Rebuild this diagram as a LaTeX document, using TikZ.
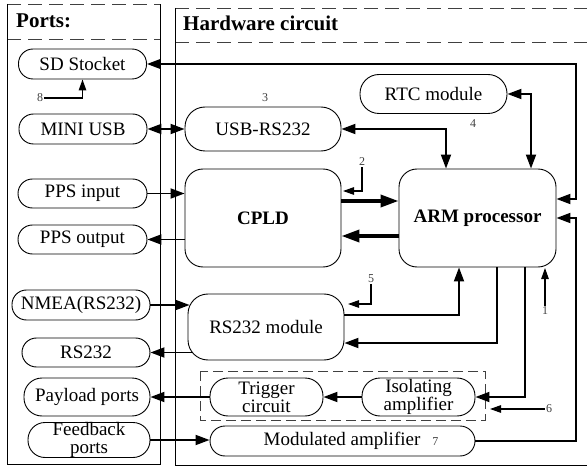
\documentclass[tikz,border=0pt]{standalone}
\usepackage{fontspec}
\setmainfont{Liberation Serif}
\usetikzlibrary{arrows.meta}
\tikzset{
  smalltip/.tip={Triangle[length=11pt,width=7.5pt]},
  bigtip/.tip={Triangle[length=18pt,width=12pt]},
}
\begin{document}
\begin{tikzpicture}[x=1pt,y=-1pt,
  >={Triangle[length=14pt,width=10pt]},
  box/.style={draw, line width=0.9pt, align=center, inner sep=0pt,
    font=\fontsize{19}{16}\selectfont},
  pill/.style={box, rounded corners=#1},
  pill/.default=14.5pt,
  conn/.style={line width=1.8pt},
  heavy/.style={line width=3.6pt, -bigtip},
  numlab/.style={inner sep=0pt, text=black!75, font=\fontsize{12}{12}\selectfont},
  labarrow/.style={line width=1.2pt, -smalltip},
  frame/.style={line width=0.9pt},
  frametop/.style={line width=0.9pt, draw=black!75, dash pattern=on 14pt off 7pt},
  title/.style={anchor=base west, inner sep=0pt, font=\bfseries\fontsize{21}{22}\selectfont},
]
\useasboundingbox (0,0) rectangle (587,468);

% ---- frames ----
\draw[frametop] (7,4) -- (160,4);
\draw[frametop] (7,39) -- (160,39);
\draw[frame] (7,4) -- (7,464) -- (160,464) -- (160,4);
\draw[frametop] (175,8) -- (587,8);
\draw[frametop] (175,42) -- (587,42);
\draw[frame] (175,8) -- (175,465) -- (587,465);
\node[title] (tports) at (16,28) {Ports:};
\node[title] (thw) at (183,31) {Hardware circuit};

% ---- port nodes ----
\node[pill, minimum width=128pt, minimum height=30pt] (sd) at (82.5,64) {SD Stocket};
\node[pill, minimum width=128pt, minimum height=30pt] (musb) at (83,129) {MINI USB};
\node[pill, minimum width=129pt, minimum height=29pt] (ppsin) at (82.5,193.5) {PPS input};
\node[pill, minimum width=129pt, minimum height=29pt] (ppsout) at (82.5,239.5) {PPS output};
\node[pill, minimum width=138pt, minimum height=30pt] (nmea) at (81,305) {NMEA(RS232)};
\node[pill, minimum width=128pt, minimum height=29pt] (rs) at (86,352.5) {RS232};
\node[pill=18pt, minimum width=126pt, minimum height=38pt] (payload) at (87,397) {Payload ports};
\node[pill=17pt, minimum width=122pt, minimum height=35pt, font=\fontsize{19}{17.5}\selectfont] (feedback) at (89,440) {Feedback\\ports};

% ---- hardware nodes ----
\node[pill=20pt, minimum width=156pt, minimum height=44pt] (usbrs) at (263,129) {USB-RS232};
\node[pill=19pt, minimum width=147pt, minimum height=39pt] (rtc) at (433.5,94) {RTC module};
\node[pill=18pt, minimum width=156pt, minimum height=98pt, font=\bfseries\fontsize{19}{15}\selectfont] (cpld) at (263,218) {CPLD};
\node[pill=18pt, minimum width=157pt, minimum height=98pt, font=\bfseries\fontsize{19}{15}\selectfont] (arm) at (477.5,218) {ARM processor};
\node[pill=20pt, minimum width=156pt, minimum height=66pt] (rsmod) at (266,327) {RS232 module};
\draw[line width=0.9pt, draw=black!75, dash pattern=on 10pt off 5pt] (200,371) rectangle (485,420);
\node[pill=18pt, minimum width=113pt, minimum height=38pt] (trig) at (266.5,397) {Trigger\\circuit};
\node[pill=18pt, minimum width=113pt, minimum height=38pt] (isol) at (418.5,397) {Isolating\\amplifier};
\node[pill=15pt, minimum width=265pt, minimum height=30pt] (modamp) at (342.5,441)
  {\hspace*{17pt}Modulated amplifier\hspace{12pt}{\fontsize{12}{12}\selectfont\color{black!75}7}};

% ---- connectors ----
\coordinate (rail) at (576,0);
\draw[conn, <->] (sd.east) -- (sd.east -| rail) |- ([yshift=19pt]arm.east);
\draw[conn, ->] (modamp.east) -- (modamp.east -| rail) |- (arm.east);
\draw[conn, <->] (usbrs.east) -| ([xshift=-31.5pt]arm.north);
\draw[conn, <->] (rtc.east) -| ([xshift=53.5pt]arm.north);
\draw[conn, <->] (musb.east) -- (usbrs.west);
\draw[conn, ->] (ppsin.east) -- (cpld.west |- ppsin.east);
\draw[conn, ->] (cpld.west |- ppsout.east) -- (ppsout.east);
\draw[heavy] ([yshift=17pt]cpld.east) -- ([yshift=17pt]arm.west);
\draw[heavy] ([yshift=-18pt]arm.west) -- ([yshift=-18pt]cpld.east);
\draw[conn, ->] (nmea.east) -- ([xshift=2pt]rsmod.west |- nmea.east);
\draw[conn, ->] ([yshift=12pt]rsmod.east) -| ([xshift=-18.5pt]arm.south);
\draw[conn, ->] ([xshift=19.5pt]arm.south) |- ([yshift=-16pt]rsmod.east);
\draw[conn, ->] ([xshift=47.5pt]arm.south) |- (isol.east);
\draw[conn, ->] (isol.west) -- (trig.east);
\draw[conn, ->] (trig.west) -- (payload.east);
\draw[conn, ->] (feedback.east) -- (modamp.west |- feedback.east);
\draw[conn, ->] ([xshift=4pt]rsmod.west |- rs.east) -- (rs.east);

% ---- numbered callouts ----
\node[numlab] (n1) at (545,311) {1};
\node[numlab] (n2) at (362,162) {2};
\node[numlab] (n3) at (265,98) {3};
\node[numlab] (n4) at (473,124) {4};
\node[numlab] (n5) at (371,279) {5};
\node[numlab] (n6) at (549,409) {6};
\node[numlab] (n8) at (40,98) {8};
\coordinate (p1) at (545,268);
\coordinate (p2) at (343,191);
\coordinate (p5) at (348,304);
\coordinate (p6) at (490,409);
\draw[labarrow] ([yshift=1pt]n1.north) -- (p1);
\draw[labarrow] ([yshift=-1pt]n2.south) |- (p2);
\draw[labarrow] ([yshift=-1pt]n5.south) |- (p5);
\draw[labarrow] ([xshift=-1pt]n6.west) -- (p6);
\draw[labarrow] ([xshift=1pt]n8.east) -| (sd.south);
\end{tikzpicture}
\end{document}
